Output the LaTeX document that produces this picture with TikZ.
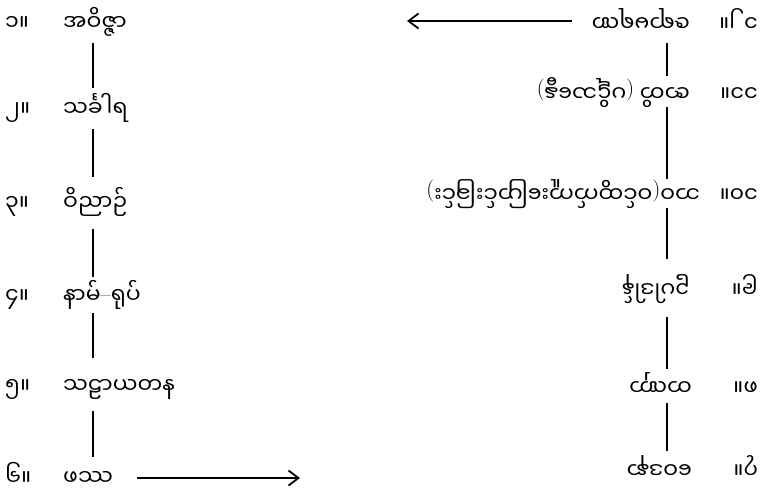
\documentclass[tikz,border=0pt]{standalone}
\usepackage{fontspec}
\newfontfamily\mym[Script=Myanmar]{Noto Sans Myanmar UI}
\newcommand\lpr{{\rmfamily(}}
\newcommand\rpr{{\rmfamily)}}
\newcommand\ndsh{\raisebox{1.5pt}{\rmfamily\char"2013}}
\usetikzlibrary{arrows.meta}
\begin{document}
\begin{tikzpicture}[x=1pt,y=-1pt,
  lbl/.style={font=\mym\fontsize{22}{26}\selectfont, inner sep=0pt, anchor=base west},
  rlbl/.style={lbl, rotate=180},
  link/.style={line width=2.2pt},
  arr/.style={line width=1.8pt, -{Straight Barb[length=10pt,width=15pt,line width=1.8pt]}}]
\useasboundingbox (0,0) rectangle (760,490);
% left column
\node[lbl] (n1) at (5,30) {၁။};
\node[lbl] (t1) at (63,30) {အဝိဇ္ဇာ};
\node[lbl] (n2) at (5,116) {၂။};
\node[lbl] (t2) at (63,116) {သင်္ခါရ};
\node[lbl] (n3) at (5,210) {၃။};
\node[lbl] (t3) at (63,210) {ဝိညာဉ်};
\node[lbl] (n4) at (5,303) {၄။};
\node[lbl] (t4) at (63,303) {နာမ်\ndsh ရုပ်};
\node[lbl] (n5) at (5,393) {၅။};
\node[lbl] (t5) at (63,393) {သဠာယတန};
\node[lbl] (n6) at (5,485) {၆။};
\node[lbl] (t6) at (63,485) {ဖဿ};
\coordinate (a1) at (93,43);  \coordinate (b2) at (93,88);
\coordinate (a2) at (93,129); \coordinate (b3) at (93,177);
\coordinate (a3) at (93,229); \coordinate (b4) at (93,277);
\coordinate (a4) at (93,313); \coordinate (b5) at (93,358);
\coordinate (a5) at (93,411); \coordinate (b6) at (93,457);
\draw[link] (a1) -- (b2);
\draw[link] (a2) -- (b3);
\draw[link] (a3) -- (b4);
\draw[link] (a4) -- (b5);
\draw[link] (a5) -- (b6);
% right column (printed upside down)
\node[rlbl] (n12) at (758,14) {၁၂။};
\node[rlbl] (t12) at (690,14) {ဇရာမရဏ};
\node[rlbl] (n11) at (758,84) {၁၁။};
\node[rlbl] (t11) at (690,84) {ဇာတိ \lpr ပဋိသန္ဓေ\rpr};
\node[rlbl] (n10) at (758,185) {၁၀။};
\node[rlbl] (t10) at (700,185) {ဘဝ\lpr ဝင်ထွက်ကူးပြောင်းခြင်း\rpr};
\node[rlbl] (n9) at (758,280) {၉။};
\node[rlbl] (t9) at (690,280) {ဥပါဒါန်};
\node[rlbl] (n8) at (758,378) {၈။};
\node[rlbl] (t8) at (692,378) {တဏှာ};
\node[rlbl] (n7) at (758,461) {၇။};
\node[rlbl] (t7) at (692,461) {ဝေဒနာ};
\coordinate (c12) at (667,43);  \coordinate (d11) at (667,76);
\coordinate (c11) at (667,107); \coordinate (d10) at (667,179);
\coordinate (c10) at (667,208); \coordinate (d9) at (667,259);
\coordinate (c9) at (667,317);  \coordinate (d8) at (667,369);
\coordinate (c8) at (667,403);  \coordinate (d7) at (667,451);
\draw[link] (c12) -- (d11);
\draw[link] (c11) -- (d10);
\draw[link] (c10) -- (d9);
\draw[link] (c9) -- (d8);
\draw[link] (c8) -- (d7);
% arrows
\coordinate (ts) at (572,21); \coordinate (te) at (407,21);
\coordinate (bs) at (137,478); \coordinate (be) at (300,478);
\draw[arr] (ts) -- (te);
\draw[arr] (bs) -- (be);
\end{tikzpicture}
\end{document}
